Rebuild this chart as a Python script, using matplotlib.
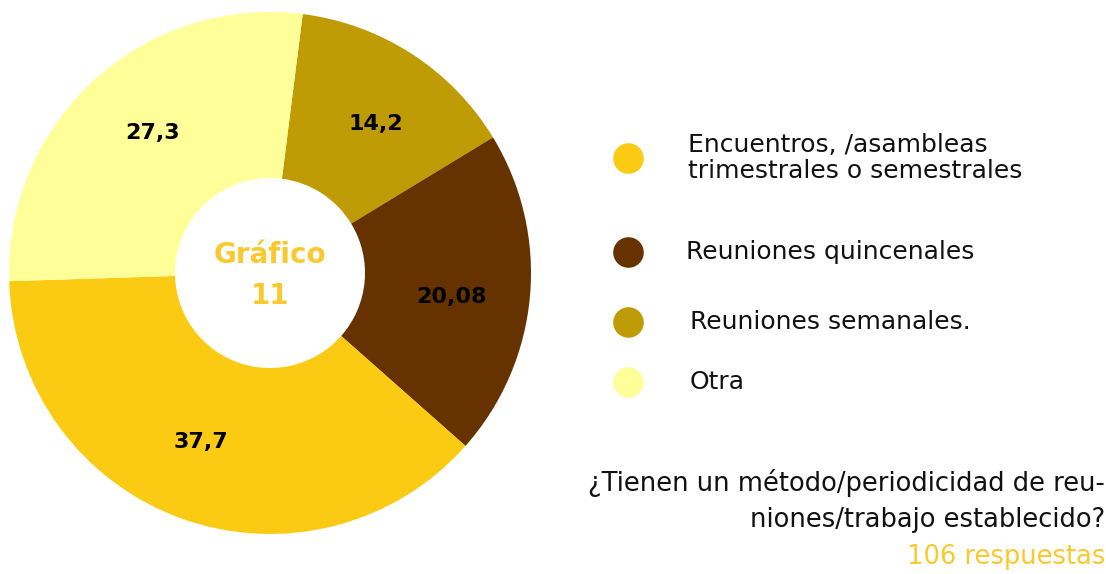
import matplotlib.pyplot as plt
import numpy as np
from matplotlib.lines import Line2D

plt.rcParams['font.family'] = ['DejaVu Sans']

# data, clockwise from the top
categorias = ["Reuniones semanales.", "Reuniones quincenales",
              "Encuentros, /asambleas\ntrimestrales o semestrales", "Otra"]
valores = [14.2, 20.08, 37.7, 27.3]
etiquetas = ["14,2", "20,08", "37,7", "27,3"]
colores = ["#BF9B05", "#663300", "#FBCB13", "#FFFF99"]

# legend order as in the picture
orden_leyenda = [2, 1, 0, 3]

fig = plt.figure(figsize=(11.06, 5.74), dpi=100)
ax = fig.add_axes([9 / 1106, 40 / 574, 522 / 1106, 522 / 574])

start = 90 - 7.2
wedges, _ = ax.pie(valores, colors=colores, startangle=start, counterclock=False,
                   wedgeprops=dict(width=0.636, edgecolor='none'))
ax.set_xlim(-1, 1)
ax.set_ylim(-1, 1)
ax.set_aspect('equal')

for w, lab in zip(wedges, etiquetas):
    ang = np.deg2rad((w.theta1 + w.theta2) / 2 - 2.5)
    r = 0.70
    ax.text(r * np.cos(ang), r * np.sin(ang), lab, ha='center', va='center',
            fontsize=16, fontweight='bold', color='black')

ax.text(0, 0.07, "Gráfico", ha='center', va='center', fontsize=20,
        fontweight='bold', color='#FBC92E')
ax.text(0, -0.09, "11", ha='center', va='center', fontsize=20,
        fontweight='bold', color='#FBC92E')

# legend, drawn by hand
ley_y = [158, 252, 322, 382]
ley_x = [688, 686, 690, 690]
for k, idx in enumerate(orden_leyenda):
    yy = 1 - ley_y[k] / 574
    fig.add_artist(Line2D([628 / 1106], [yy], marker='o', markersize=21,
                          color=colores[idx], linestyle='none',
                          transform=fig.transFigure))
    fig.text(ley_x[k] / 1106, yy, categorias[idx], ha='left', va='center',
             fontsize=18, color='#111111', linespacing=1.15)

fig.text(1105 / 1106, 1 - 483 / 574, "¿Tienen un método/periodicidad de reu-",
         ha='right', va='center', fontsize=18.5, color='#111111')
fig.text(1105 / 1106, 1 - 520 / 574, "niones/trabajo establecido?",
         ha='right', va='center', fontsize=18.5, color='#111111')
fig.text(1105 / 1106, 1 - 557 / 574, "106 respuestas",
         ha='right', va='center', fontsize=18.5, color='#FBC92E')

fig.savefig("out.png", dpi=100)
